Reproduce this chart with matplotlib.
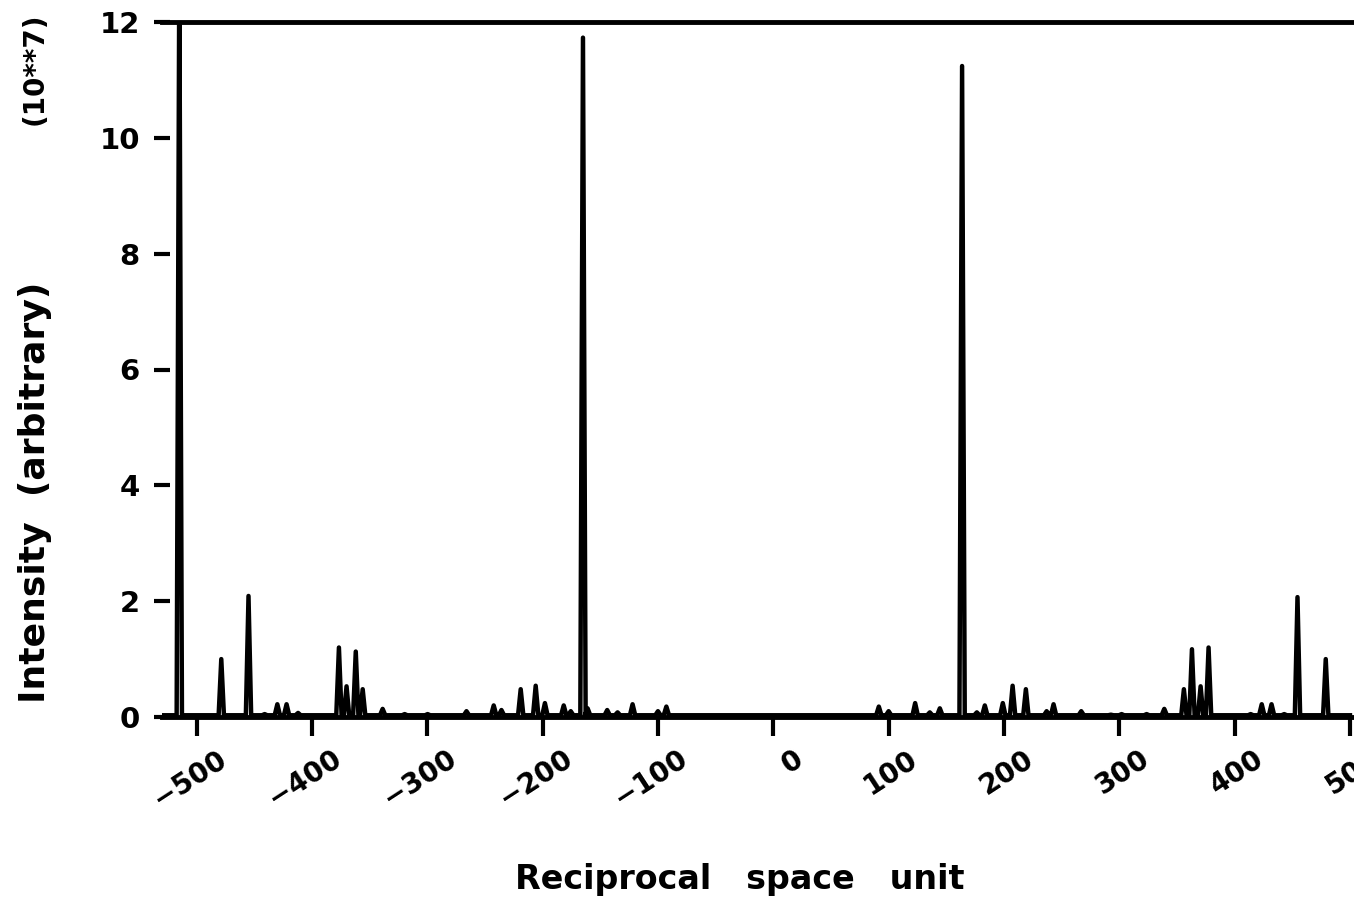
import numpy as np
import matplotlib
matplotlib.use("Agg")
import matplotlib.pyplot as plt
import matplotlib.transforms as mtransforms

# peak positions (reciprocal space units) and heights (10**7)
peak_x = [-515, -478.6, -455, -441, -430, -422, -412, -376.6, -370, -362, -356,
          -338.7, -319.6, -299.7, -266, -242.4, -235.7, -219, -206, -198, -181.7,
          -175.6, -165, -161, -144, -135, -122, -100, -92.7, -78.5,
          91.5, 100, 123, 135.7, 144.4, 163.7, 176.5, 183.4, 199, 207.5, 219,
          237, 243, 267, 292.7, 302, 323.7, 339, 356, 363, 370.5, 377.4,
          413.9, 423.5, 432, 443, 454.5, 479]
peak_h = [13.0, 1.0, 2.09, 0.05, 0.22, 0.22, 0.07, 1.2, 0.53, 1.13, 0.48,
          0.14, 0.05, 0.05, 0.1, 0.2, 0.12, 0.48, 0.54, 0.24, 0.2,
          0.1, 11.73, 0.15, 0.12, 0.08, 0.22, 0.1, 0.18, 0.03,
          0.18, 0.1, 0.24, 0.08, 0.15, 11.24, 0.08, 0.2, 0.24, 0.54, 0.48,
          0.1, 0.22, 0.1, 0.04, 0.05, 0.05, 0.14, 0.48, 1.17, 0.53, 1.2,
          0.05, 0.22, 0.22, 0.05, 2.07, 1.0]
x_start, x_end = -530, 500
base = 0.03
half_w = 2.3

# build the trace: flat baseline with a narrow spike at each peak
xs = [x_start]
ys = [base]
for px, ph in sorted(zip(peak_x, peak_h)):
    xs += [px - half_w, px, px + half_w]
    ys += [base, ph, base]
xs.append(x_end)
ys.append(base)

plt.rcParams["font.family"] = "DejaVu Sans"
plt.rcParams["font.weight"] = "bold"

fig = plt.figure(figsize=(13.54, 9.16), dpi=100)
ax = fig.add_axes([162 / 1354, 199 / 916, 1192 / 1354, 695 / 916])
ax.plot(xs, ys, color="black", lw=3.2, solid_joinstyle="round", clip_on=True)

ax.set_xlim(-530, 503.5)
ax.set_ylim(0, 12)
for s in ["left", "right"]:
    ax.spines[s].set_visible(False)
ax.spines["bottom"].set_linewidth(3.5)
ax.spines["top"].set_linewidth(3.5)

ax.set_xticks(np.arange(-500, 501, 100))
ax.set_yticks(np.arange(0, 13, 2))
ax.tick_params(axis="x", direction="out", length=14, width=3, pad=0, labelsize=20)
ax.tick_params(axis="y", direction="inout", length=12, width=3, pad=10, labelsize=21)

offset = mtransforms.ScaledTranslation(0.27, -0.2, fig.dpi_scale_trans)
for lab in ax.get_xticklabels():
    lab.set_rotation(33)
    lab.set_ha("right")
    lab.set_va("center")
    lab.set_rotation_mode("anchor")
    lab.set_transform(lab.get_transform() + offset)

fig.text(740 / 1354, 1 - 880 / 916, "Reciprocal   space   unit",
         ha="center", va="center", fontsize=24, fontweight="bold")
fig.text(35 / 1354, 1 - 492 / 916, "Intensity  (arbitrary)", rotation=90,
         ha="center", va="center", fontsize=26, fontweight="bold")
fig.text(35 / 1354, 1 - 69 / 916, "(10**7)", rotation=90,
         ha="center", va="center", fontsize=20, fontweight="bold")

fig.savefig("out.png", dpi=100)
